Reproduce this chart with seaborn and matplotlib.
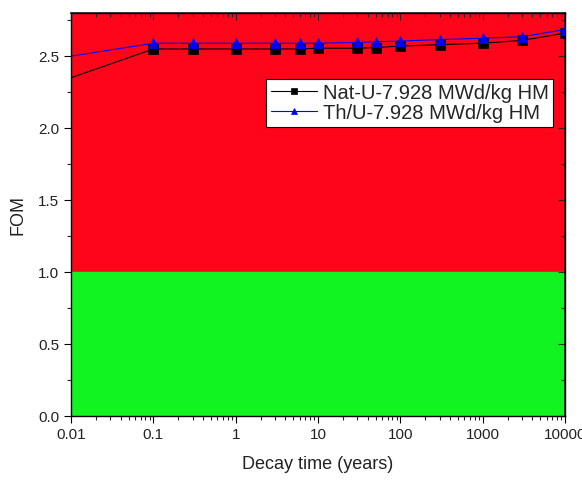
import numpy as np
import pandas as pd
import matplotlib
matplotlib.use("Agg")
import matplotlib.pyplot as plt
import seaborn as sns
from matplotlib.ticker import LogLocator, MultipleLocator, FixedLocator, FixedFormatter, NullFormatter

decay_time = [0.01, 0.1, 0.3, 1, 3, 6, 10, 30, 50, 100, 300, 1000, 3000, 10000]
nat_u = [2.35, 2.55, 2.55, 2.55, 2.55, 2.55, 2.555, 2.555, 2.56, 2.57, 2.58, 2.59, 2.61, 2.66]
th_u = [2.50, 2.59, 2.59, 2.59, 2.59, 2.59, 2.59, 2.595, 2.60, 2.605, 2.615, 2.625, 2.635, 2.685]
series_names = ["Nat-U-7.928 MWd/kg HM", "Th/U-7.928 MWd/kg HM"]
x_ticks = [0.01, 0.1, 1, 10, 100, 1000, 10000]
x_tick_labels = ["0.01", "0.1", "1", "10", "100", "1000", "10000"]
threshold = 1.0

sns.set_theme(style="white")
plt.rcParams["font.family"] = ["Liberation Sans", "DejaVu Sans"]

df = pd.DataFrame({
    "time": decay_time * 2,
    "FOM": nat_u + th_u,
    "series": [series_names[0]] * len(decay_time) + [series_names[1]] * len(decay_time),
})

fig = plt.figure(figsize=(5.82, 4.8), dpi=100)
ax = fig.add_axes([0.122, 0.133, 0.849, 0.840])

ymax = 2.8
ax.axhspan(threshold, ymax, color="#FF0519", zorder=0)
ax.axhspan(0, threshold, color="#12F420", zorder=0)

styles = {series_names[0]: dict(color="black", marker="s", lw=0.8),
          series_names[1]: dict(color="blue", marker="^", lw=0.8)}
for name in series_names:
    sub = df[df["series"] == name]
    st = styles[name]
    sns.lineplot(data=sub, x="time", y="FOM", ax=ax, color=st["color"], lw=st["lw"],
                 marker=st["marker"], markersize=6.5, markeredgewidth=0.5,
                 markeredgecolor=st["color"], markevery=list(range(1, len(sub))),
                 label=name, zorder=3)

ax.set_xscale("log")
ax.set_xlim(0.01, 10000)
ax.set_ylim(0, ymax)
ax.xaxis.set_major_locator(FixedLocator(x_ticks))
ax.xaxis.set_major_formatter(FixedFormatter(x_tick_labels))
ax.xaxis.set_minor_locator(LogLocator(base=10, subs=np.arange(2, 10)))
ax.xaxis.set_minor_formatter(NullFormatter())
ax.yaxis.set_major_locator(MultipleLocator(0.5))
ax.yaxis.set_minor_locator(MultipleLocator(0.25))
ax.yaxis.set_major_formatter(matplotlib.ticker.FormatStrFormatter("%.1f"))

ax.tick_params(axis="both", which="major", direction="out", length=5, width=0.8,
               labelsize=11, colors="black", labelcolor="#222222")
ax.tick_params(axis="both", which="minor", direction="out", length=3, width=0.8)
ax.tick_params(top=False, right=False, which="both")
ax.tick_params(bottom=True, left=True, which="both")

# mirrored inward ticks on top and right
sec_x = ax.secondary_xaxis("top")
sec_x.xaxis.set_major_locator(FixedLocator(x_ticks))
sec_x.xaxis.set_minor_locator(LogLocator(base=10, subs=np.arange(2, 10)))
sec_x.xaxis.set_major_formatter(NullFormatter())
sec_x.xaxis.set_minor_formatter(NullFormatter())
sec_x.tick_params(which="major", direction="in", length=5, width=0.8)
sec_x.tick_params(which="minor", direction="in", length=3, width=0.8)
sec_y = ax.secondary_yaxis("right")
sec_y.yaxis.set_major_locator(MultipleLocator(0.5))
sec_y.yaxis.set_minor_locator(MultipleLocator(0.25))
sec_y.yaxis.set_major_formatter(NullFormatter())
sec_y.tick_params(which="major", direction="in", length=5, width=0.8)
sec_y.tick_params(which="minor", direction="in", length=3, width=0.8)

for s in ax.spines.values():
    s.set_color("black")
    s.set_linewidth(1.0)

ax.set_xlabel("Decay time (years)", fontsize=13, color="#222222", labelpad=10)
ax.set_ylabel("FOM", fontsize=13, color="#222222", labelpad=8)

leg = ax.legend(loc="upper right", bbox_to_anchor=(0.975, 0.835), fontsize=14.5,
                frameon=True, fancybox=False, framealpha=1, edgecolor="black",
                handlelength=2.3, handletextpad=0.3, borderpad=0.2, labelspacing=0.05,
                borderaxespad=0, markerscale=0.7)
leg.get_frame().set_linewidth(0.8)

fig.savefig("out.png", dpi=100)
